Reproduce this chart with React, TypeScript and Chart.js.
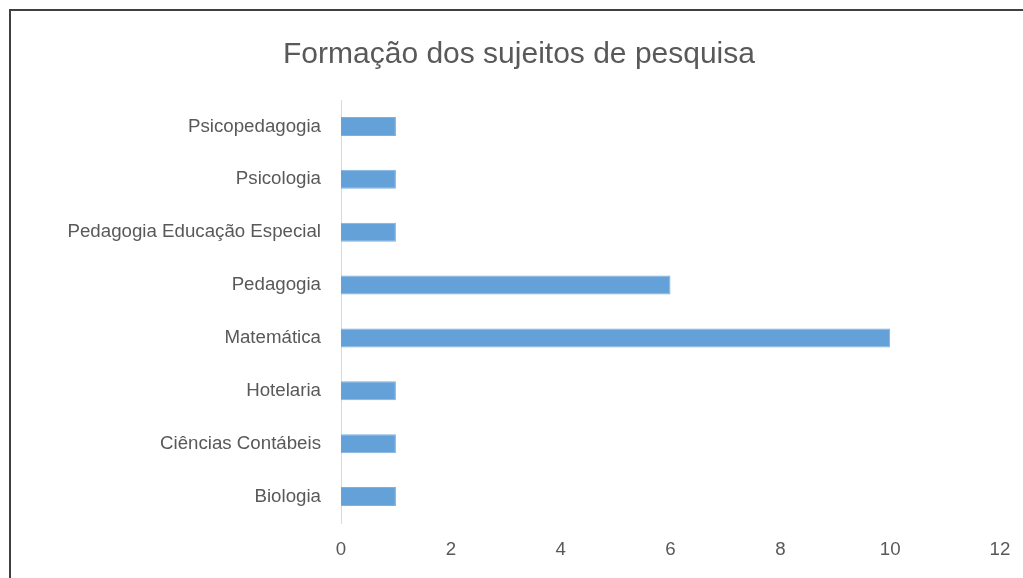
import React, { useEffect, useRef } from "react";
import { Chart, registerables } from "chart.js";

Chart.register(...registerables);

const categories = [
  "Psicopedagogia",
  "Psicologia",
  "Pedagogia Educação Especial",
  "Pedagogia",
  "Matemática",
  "Hotelaria",
  "Ciências Contábeis",
  "Biologia",
];
const counts = [1, 1, 1, 6, 10, 1, 1, 1];
const titleText = "Formação dos sujeitos de pesquisa";
const xMin = 0;
const xMax = 12;
const xStep = 2;

const FONT = "'Liberation Sans', Arial, sans-serif";
const TEXT = "#595959";

export default function App() {
  const ref = useRef<HTMLCanvasElement | null>(null);

  useEffect(() => {
    if (!ref.current) return;
    const chart = new Chart(ref.current, {
      type: "bar",
      data: {
        labels: categories,
        datasets: [
          {
            data: counts,
            backgroundColor: "#65a1d9",
            borderColor: "#7fb1e0",
            borderWidth: 1,
            categoryPercentage: 1,
            barPercentage: 0.36,
          },
        ],
      },
      options: {
        indexAxis: "y",
        responsive: false,
        animation: false,
        layout: { padding: { left: 27, right: 23, top: 0, bottom: 0 } },
        plugins: {
          legend: { display: false },
          tooltip: { enabled: false },
          title: {
            display: true,
            text: titleText,
            color: TEXT,
            font: { family: FONT, size: 30, weight: "normal" },
            padding: { top: 26, bottom: 27 },
          },
        },
        scales: {
          x: {
            min: xMin,
            max: xMax,
            ticks: {
              stepSize: xStep,
              color: TEXT,
              font: { family: FONT, size: 18.7 },
              padding: 16,
            },
            grid: { display: false, drawTicks: false },
            border: { display: false },
            afterFit: (s: any) => {
              s.height = 54;
              s.paddingLeft = 0;
              s.paddingRight = 0;
            },
          },
          y: {
            ticks: {
              color: TEXT,
              font: { family: FONT, size: 18.7 },
              padding: 20,
            },
            grid: { drawOnChartArea: false, drawTicks: false },
            border: { display: true, color: "#d9d9d9", width: 1 },
            afterFit: (s: any) => {
              s.width = 303;
              s.paddingTop = 0;
              s.paddingBottom = 0;
            },
          },
        },
      },
    });
    return () => chart.destroy();
  }, []);

  return (
    <div
      style={{
        position: "absolute",
        left: 9,
        top: 9,
        width: 1014,
        height: 569,
        borderLeft: "2px solid #404040",
        borderTop: "2px solid #404040",
        boxSizing: "border-box",
        overflow: "hidden",
        background: "#fff",
      }}
    >
      <canvas ref={ref} width={1012} height={566} style={{ display: "block" }} />
    </div>
  );
}
